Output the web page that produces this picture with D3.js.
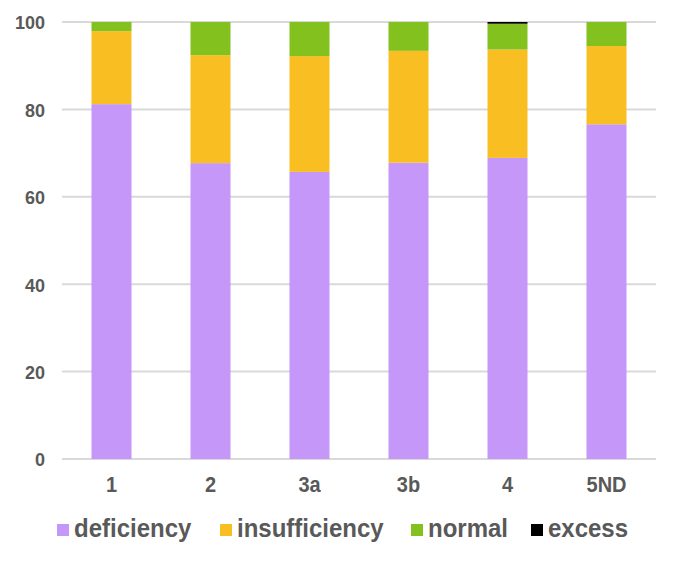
<!DOCTYPE html>
<html>
<head>
<meta charset="utf-8">
<script src="https://cdn.jsdelivr.net/npm/d3@7"></script>
<style>
  html, body { margin: 0; padding: 0; background: #fff; }
  svg { display: block; }
</style>
</head>
<body>
<svg id="chart" width="679" height="563"></svg>
<script>
const categories = ["1", "2", "3a", "3b", "4", "5ND"];
const deficiency    = [81.2, 67.7, 65.7, 67.8, 68.9, 76.6];
const insufficiency = [16.7, 24.7, 26.5, 25.6, 24.8, 17.9];
const normal        = [2.1, 7.6, 7.8, 6.6, 5.9, 5.5];
const excess        = [0, 0, 0, 0, 0.4, 0];
const yTicks = [0, 20, 40, 60, 80, 100];

const seriesNames = ["deficiency", "insufficiency", "normal", "excess"];
const seriesValues = [deficiency, insufficiency, normal, excess];
const colors = ["#C597F9", "#F9BE22", "#83C11F", "#000000"];

const rows = categories.map((c, i) => {
  const r = { cat: c };
  seriesNames.forEach((s, j) => r[s] = seriesValues[j][i]);
  return r;
});
const stacked = d3.stack().keys(seriesNames)(rows);

const FONT = "Liberation Sans, Arial, sans-serif";
const svg = d3.select("#chart");
const x = d3.scaleBand().domain(categories).range([62, 656]).paddingInner(0.596).paddingOuter(0.298);
const y = d3.scaleLinear().domain([0, 100]).range([459, 22]);

// gridlines
svg.append("g").selectAll("line").data(yTicks).join("line")
  .attr("x1", 62).attr("x2", 656)
  .attr("y1", d => y(d)).attr("y2", d => y(d))
  .attr("stroke", "#D9D9D9").attr("stroke-width", 2);

// bars
svg.append("g").selectAll("g").data(stacked).join("g")
  .attr("fill", (d, i) => colors[i])
  .selectAll("rect").data(d => d).join("rect")
  .attr("x", d => x(d.data.cat))
  .attr("width", x.bandwidth())
  .attr("y", d => y(d[1]))
  .attr("height", d => y(d[0]) - y(d[1]));

// y axis
const yAxis = svg.append("g").attr("transform", "translate(45,0)")
  .call(d3.axisLeft(y).tickValues(yTicks).tickSize(0).tickPadding(0));
yAxis.select(".domain").remove();
yAxis.selectAll("text")
  .attr("x", 0).attr("y", 0).attr("dy", 0)
  .attr("transform", "translate(0,6.8) scale(1,1.04)")
  .attr("fill", "#595959").style("font-family", FONT)
  .style("font-weight", "bold").style("font-size", "18px");

// x axis
const xAxis = svg.append("g").attr("transform", "translate(0,459)")
  .call(d3.axisBottom(x).tickSize(0).tickPadding(0));
xAxis.select(".domain").remove();
xAxis.selectAll("text")
  .attr("y", 0).attr("dy", 0)
  .attr("transform", "translate(0,33.3) scale(1,1.09)")
  .attr("fill", "#595959").style("font-family", FONT)
  .style("font-weight", "bold").style("font-size", "20px");

// legend
const legendX = [57, 220, 411, 531];
const lg = svg.append("g").selectAll("g").data(seriesNames).join("g")
  .attr("transform", (d, i) => `translate(${legendX[i]},530)`);
lg.append("rect").attr("x", 0).attr("y", -6).attr("width", 12).attr("height", 12)
  .attr("fill", (d, i) => colors[i]);
lg.append("text").attr("x", 0).attr("y", 0)
  .attr("transform", "translate(17,6.7) scale(1,1.06)")
  .attr("fill", "#595959").style("font-family", FONT)
  .style("font-weight", "bold").style("font-size", "24px")
  .text(d => d);
</script>
</body>
</html>
